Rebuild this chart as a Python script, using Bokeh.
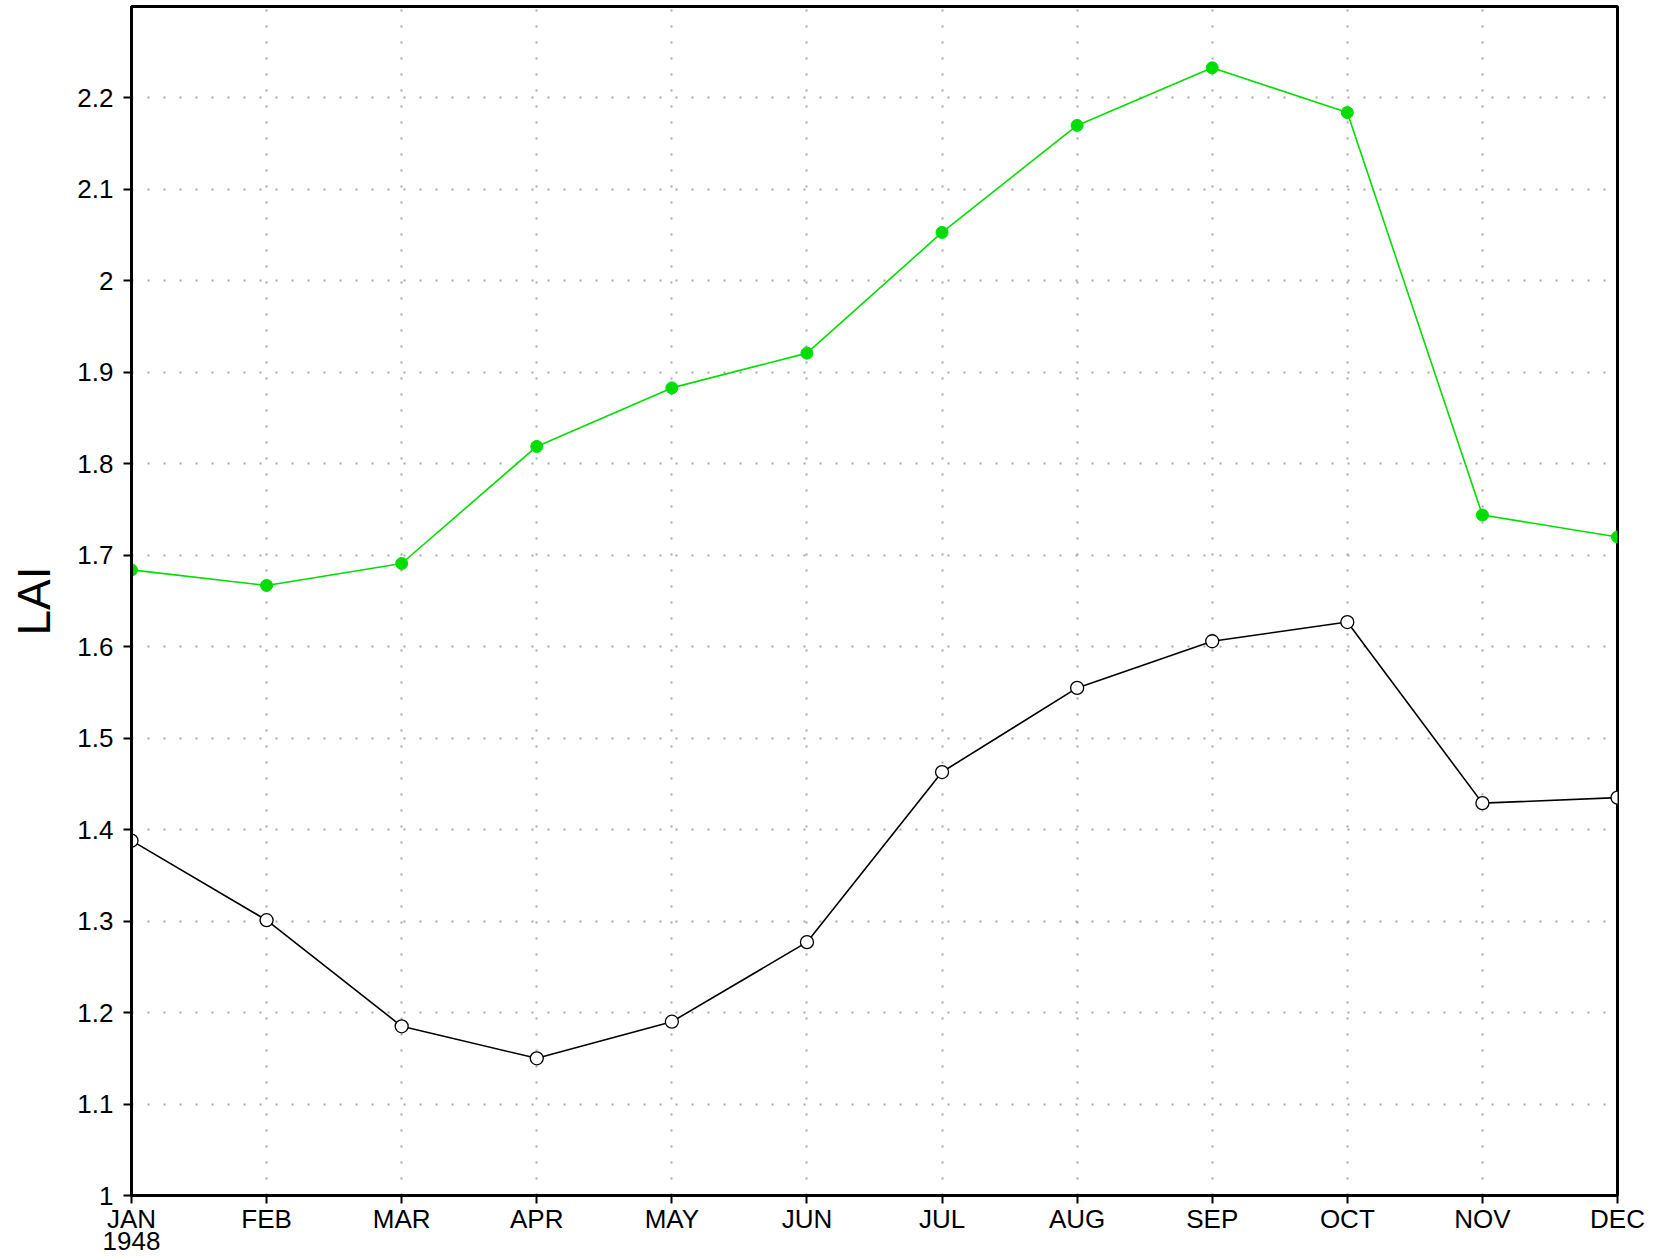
from bokeh.plotting import figure
from bokeh.models import FixedTicker, Range1d, LinearAxis
from bokeh.embed import file_html
from bokeh.resources import INLINE

months = ["JAN", "FEB", "MAR", "APR", "MAY", "JUN", "JUL", "AUG", "SEP", "OCT", "NOV", "DEC"]
year_label = "1948"
green_lai = [1.684, 1.667, 1.691, 1.819, 1.883, 1.921, 2.053, 2.170, 2.233, 2.184, 1.744, 1.720]
black_lai = [1.388, 1.301, 1.185, 1.150, 1.190, 1.277, 1.463, 1.555, 1.606, 1.627, 1.429, 1.435]
y_ticks = [1.0, 1.1, 1.2, 1.3, 1.4, 1.5, 1.6, 1.7, 1.8, 1.9, 2.0, 2.1, 2.2]
y_tick_labels = ["1", "1.1", "1.2", "1.3", "1.4", "1.5", "1.6", "1.7", "1.8", "1.9", "2", "2.1", "2.2"]

x = list(range(len(months)))
FONT = "Liberation Sans"

p = figure(width=1660, height=1257, output_backend="svg", toolbar_location=None,
           x_range=Range1d(0, 11), y_range=Range1d(1.0, 2.3),
           min_border_left=131, min_border_right=43, min_border_top=6, min_border_bottom=62)
p.outline_line_color = "black"
p.outline_line_width = 3

for ax in (p.xaxis[0], p.yaxis[0]):
    ax.axis_line_width = 3
    ax.axis_line_color = "black"
    ax.major_tick_line_width = 2
    ax.major_tick_line_color = "black"
    ax.minor_tick_line_color = None
    ax.major_label_text_font = FONT
    ax.major_label_text_font_size = "26px"
    ax.major_label_text_color = "black"

p.xaxis.ticker = FixedTicker(ticks=x)
p.xaxis.major_label_overrides = {i: lab for i, lab in enumerate(months)}
p.xaxis.major_tick_out = 8
p.xaxis.major_tick_in = 0
p.xaxis.major_label_standoff = 0

# second line of the first tick label (year)
year_axis = LinearAxis(ticker=FixedTicker(ticks=[0]), major_label_overrides={0: year_label})
year_axis.axis_line_color = None
year_axis.major_tick_line_color = None
year_axis.minor_tick_line_color = None
year_axis.major_tick_out = 0
year_axis.major_tick_in = 0
year_axis.major_label_standoff = -5
year_axis.major_label_text_font = FONT
year_axis.major_label_text_font_size = "26px"
year_axis.major_label_text_color = "black"
p.add_layout(year_axis, "below")

p.yaxis.ticker = FixedTicker(ticks=y_ticks)
p.yaxis.major_label_overrides = {t: s for t, s in zip(y_ticks, y_tick_labels)}
p.yaxis.major_tick_out = 8
p.yaxis.major_tick_in = 0
p.yaxis.major_label_standoff = 10
p.yaxis.axis_label = "LAI"
p.yaxis.axis_label_text_font = FONT
p.yaxis.axis_label_text_font_style = "normal"
p.yaxis.axis_label_text_font_size = "46px"
p.yaxis.axis_label_text_color = "black"
p.yaxis.axis_label_standoff = 14

for g in (p.xgrid[0], p.ygrid[0]):
    g.grid_line_color = "#a8a8a8"
    g.grid_line_width = 2
    g.grid_line_dash = "2 14"

p.line(x, green_lai, line_color="#00dd00", line_width=1.6)
p.scatter(x, green_lai, size=12, fill_color="#00dd00", line_color="#00dd00")
p.line(x, black_lai, line_color="black", line_width=1.6)
p.scatter(x, black_lai, size=13, fill_color="white", line_color="black", line_width=1.3)

open("out.html", "w").write(file_html(p, INLINE))
